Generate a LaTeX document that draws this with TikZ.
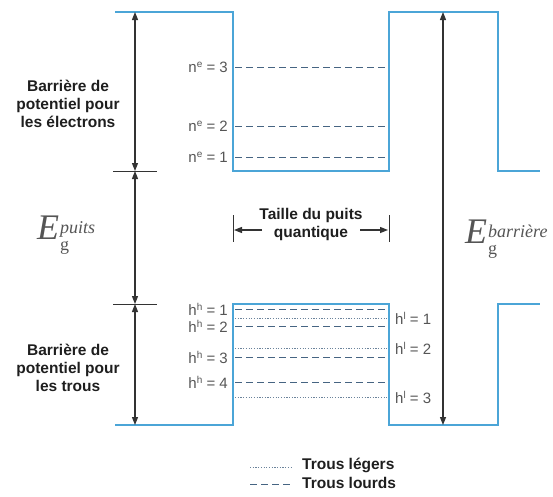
\documentclass[tikz,border=0pt]{standalone}
\usepackage{fontspec}
\setmainfont{Liberation Sans}
\newfontfamily\serif{Liberation Serif}
\usetikzlibrary{arrows.meta}
\definecolor{band}{RGB}{75,165,215}
\definecolor{lvl}{RGB}{70,100,130}
\definecolor{lbl}{RGB}{85,85,85}
\definecolor{txt}{RGB}{30,30,30}
\newcommand{\supx}[1]{\raisebox{5pt}{\fontsize{10}{10}\selectfont #1}}
\newcommand{\egstack}[1]{\raisebox{-3pt}{\fontsize{18}{18}\selectfont\begin{tabular}[c]{@{}l@{}}\itshape #1\\[-1pt]\upshape g\end{tabular}}}
\begin{document}
\begin{tikzpicture}[x=1pt,y=-1pt,
 bandline/.style={band,line width=2pt,line join=miter},
 heavy/.style={lvl,line width=0.9pt,dash pattern=on 7pt off 4pt},
 light/.style={lvl!80,line width=0.9pt,dash pattern=on 1.2pt off 1.5pt},
 dim/.style={black!80,line width=1.3pt,{Triangle[length=8pt,width=6pt]}-{Triangle[length=8pt,width=6pt]}},
 onearrow/.style={black!80,line width=1.3pt,-{Triangle[length=8pt,width=6pt]}},
 tickline/.style={black!80,line width=1pt},
 lvllabel/.style={lbl,font=\fontsize{15}{15}\selectfont,inner sep=0pt},
 block/.style={txt,font=\bfseries\fontsize{15.5}{18}\selectfont,align=center,inner sep=0pt},
 eglabel/.style={lbl,font=\serif\fontsize{36}{36}\selectfont,inner sep=0pt},
]
\useasboundingbox (0,0) rectangle (553,496);
% band profile coordinates
\coordinate (c1) at (115,12); \coordinate (c2) at (233,12);
\coordinate (c3) at (233,171); \coordinate (c4) at (389,171);
\coordinate (c5) at (389,12); \coordinate (c6) at (498,12);
\coordinate (c7) at (498,171); \coordinate (c8) at (540,171);
\coordinate (v1) at (115,425); \coordinate (v2) at (233,425);
\coordinate (v3) at (233,304); \coordinate (v4) at (389,304);
\coordinate (v5) at (389,425); \coordinate (v6) at (498,425);
\coordinate (v7) at (498,304); \coordinate (v8) at (540,304);
% electron levels
\foreach \n/\y in {3/67,2/126,1/157}{
  \coordinate (e\n l) at (235,\y); \coordinate (e\n r) at (388,\y);
  \draw[heavy] (e\n l) -- (e\n r);
  \node[lvllabel,anchor=east] (ne\n) at (228,\y) {n\supx{e} = \n};
}
% heavy holes
\foreach \n/\y in {1/309,2/326,3/357,4/382}{
  \coordinate (hh\n l) at (235,\y); \coordinate (hh\n r) at (388,\y);
  \draw[heavy] (hh\n l) -- (hh\n r);
  \node[lvllabel,anchor=east] (nhh\n) at (228,\y) {h\supx{h} = \n};
}
% light holes
\foreach \n/\y in {1/318,2/348,3/397}{
  \coordinate (hl\n l) at (235,\y); \coordinate (hl\n r) at (388,\y);
  \draw[light] (hl\n l) -- (hl\n r);
  \node[lvllabel,anchor=west] (nhl\n) at (395,\y) {h\supx{l} = \n};
}
% bands
\draw[bandline] (c1) -- (c2) -- (c3) -- (c4) -- (c5) -- (c6) -- (c7) -- (c8);
\draw[bandline] (v1) -- (v2) -- (v3) -- (v4) -- (v5) -- (v6) -- (v7) -- (v8);
% left dimension arrows
\coordinate (a0) at (135,12); \coordinate (a1) at (135,171);
\coordinate (a2) at (135,304); \coordinate (a3) at (135,425);
\coordinate (t1l) at (113,171); \coordinate (t1r) at (157,171);
\coordinate (t2l) at (113,304); \coordinate (t2r) at (157,304);
\draw[dim] (a0) -- (a1);
\draw[dim] (a1) -- (a2);
\draw[dim] (a2) -- (a3);
\draw[tickline] (t1l) -- (t1r);
\draw[tickline] (t2l) -- (t2r);
% right dimension arrow
\coordinate (b0) at (443,12); \coordinate (b1) at (443,425);
\draw[dim] (b0) -- (b1);
% well width
\coordinate (w1t) at (233,215); \coordinate (w1b) at (233,242);
\coordinate (w2t) at (389,215); \coordinate (w2b) at (389,242);
\coordinate (w1s) at (262,230); \coordinate (w1e) at (234,230);
\coordinate (w2s) at (360,230); \coordinate (w2e) at (388,230);
\draw[tickline] (w1t) -- (w1b);
\draw[tickline] (w2t) -- (w2b);
\draw[onearrow] (w1s) -- (w1e);
\draw[onearrow] (w2s) -- (w2e);
\node[block] (taille) at (311,224) {Taille du puits\\quantique};
% text blocks
\node[block] (be) at (68,104) {Barrière de\\potentiel pour\\les électrons};
\node[block] (bt) at (68,368) {Barrière de\\potentiel pour\\les trous};
% energies
\node[eglabel,anchor=west] (egp) at (37,236) {\itshape E\kern1pt\egstack{puits}};
\node[eglabel,anchor=west] (egb) at (465,240) {\itshape E\kern1pt\egstack{barrière}};
% legend
\coordinate (lg1a) at (250,467); \coordinate (lg1b) at (292,467);
\coordinate (lg2a) at (250,484); \coordinate (lg2b) at (292,484);
\draw[light] (lg1a) -- (lg1b);
\draw[heavy] (lg2a) -- (lg2b);
\node[block,anchor=west] (leg1) at (302,465) {Trous légers};
\node[block,anchor=west] (leg2) at (302,483) {Trous lourds};
\end{tikzpicture}
\end{document}
